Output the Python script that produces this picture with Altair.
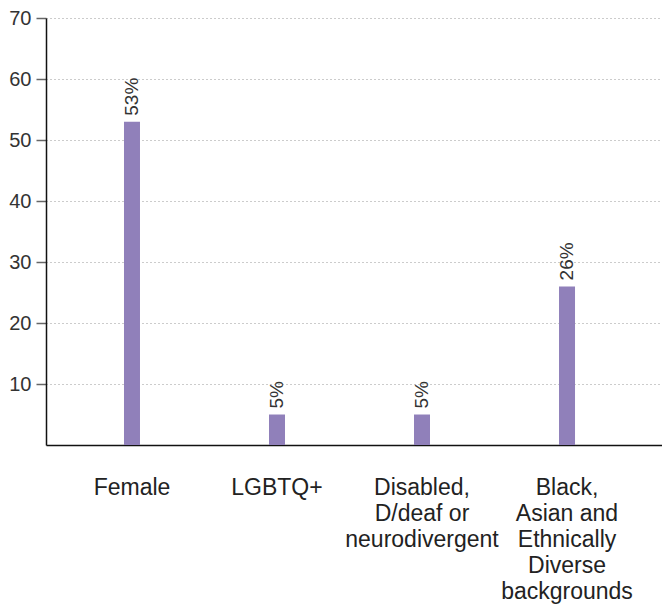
import altair as alt
import pandas as pd

# Share of each group, in percent
categories = [
    "Female",
    "LGBTQ+",
    "Disabled,\nD/deaf or\nneurodivergent",
    "Black,\nAsian and\nEthnically\nDiverse\nbackgrounds",
]
values = [53, 5, 5, 26]
labels = ["53%", "5%", "5%", "26%"]
y_ticks = [10, 20, 30, 40, 50, 60, 70]

df = pd.DataFrame({"group": categories, "share": values, "label": labels})

FONT = "Liberation Sans"
BAR = "#9080BA"

x = alt.X(
    "group:N",
    sort=categories,
    title=None,
    scale=alt.Scale(paddingInner=0, paddingOuter=0.124, align=0.375),
    axis=alt.Axis(
        labelExpr="split(datum.label, '\\n')",
        labelAngle=0,
        labelFont=FONT,
        labelFontSize=23,
        labelColor="#222222",
        labelLineHeight=26,
        labelBaseline="alphabetic",
        labelPadding=49,
        ticks=False,
        grid=False,
        domainColor="#111111",
        domainWidth=1.5,
    ),
)

y = alt.Y(
    "share:Q",
    title=None,
    scale=alt.Scale(domain=[0, 70], nice=False),
    axis=alt.Axis(
        values=y_ticks,
        labelFont=FONT,
        labelFontSize=20,
        labelColor="#333333",
        labelPadding=5,
        tickSize=10,
        tickColor="#666666",
        tickWidth=1.5,
        domainColor="#111111",
        domainWidth=1.5,
        grid=True,
        gridColor="#999999",
        gridDash=[1, 3],
        gridWidth=1,
    ),
)

bars = alt.Chart(df).mark_bar(size=16, color=BAR).encode(x=x, y=y)

text = alt.Chart(df).mark_text(
    angle=270,
    align="left",
    baseline="middle",
    dx=6,
    font=FONT,
    fontSize=19,
    color="#333333",
).encode(x=x, y=y, text="label:N")

chart = (
    alt.layer(bars, text)
    .properties(
        width=616,
        height=427,
        autosize=alt.AutoSizeParams(type="none"),
        padding={"left": 46, "top": 18, "right": 0, "bottom": 165},
    )
    .configure_view(stroke=None)
)

chart.save("out.html", embed_options={"renderer": "svg", "actions": False})
